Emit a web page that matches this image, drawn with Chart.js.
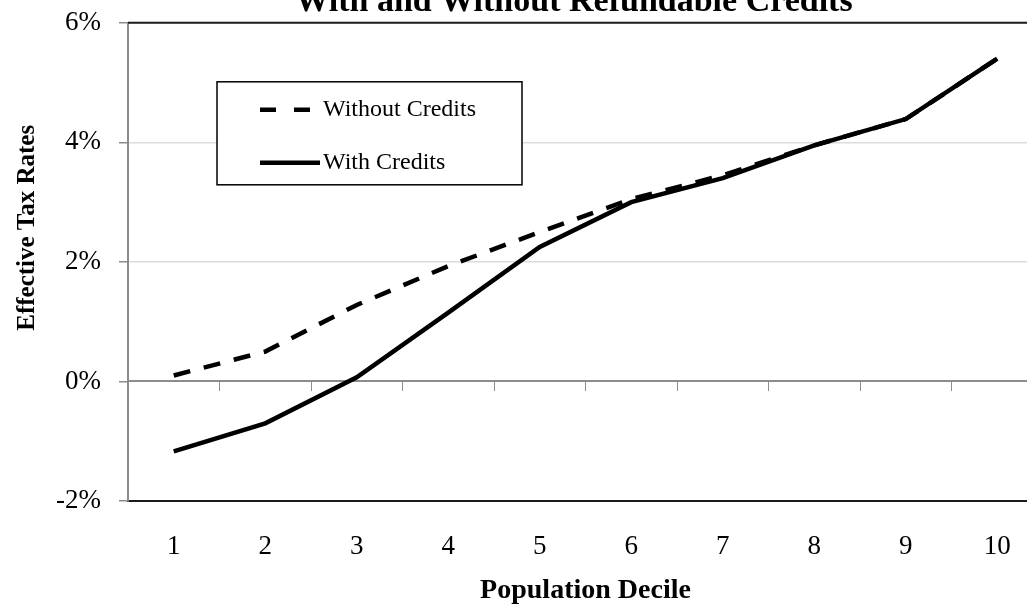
<!DOCTYPE html>
<html>
<head>
<meta charset="utf-8">
<script src="https://cdn.jsdelivr.net/npm/chart.js@4.4.1/dist/chart.umd.min.js"></script>
<style>
  html, body { margin: 0; padding: 0; background: #fff; overflow: hidden; }
  #wrap { position: absolute; left: 0; top: -18px; width: 1148px; height: 626px; }
</style>
</head>
<body>
<div id="wrap"><canvas id="chart" width="1148" height="626"></canvas></div>
<script>
const deciles = ['1', '2', '3', '4', '5', '6', '7', '8', '9', '10'];
const withoutCredits = [0.1, 0.5, 1.28, 1.93, 2.5, 3.05, 3.45, 3.95, 4.39, 5.4];
const withCredits = [-1.17, -0.7, 0.07, 1.15, 2.25, 3.0, 3.4, 3.95, 4.39, 5.4];
const yMin = -2, yMax = 6, yStep = 2;

const SERIF = '"Liberation Serif", "Times New Roman", serif';
const AXIS_GRAY = '#8c8c8c';

// frame top, legend box and rotated y title, drawn like the original
const extras = {
  id: 'extras',
  afterDraw(chart){
    const {ctx, chartArea: ca} = chart;
    ctx.save();

    ctx.strokeStyle = '#1a1a1a';
    ctx.lineWidth = 2;
    ctx.beginPath();
    ctx.moveTo(ca.left, ca.top);
    ctx.lineTo(ca.right, ca.top);
    ctx.stroke();

    const bx = ca.left + 89, by = ca.top + 59, bw = 305, bh = 103;
    ctx.fillStyle = '#fff';
    ctx.fillRect(bx, by, bw, bh);
    ctx.strokeStyle = '#000';
    ctx.lineWidth = 1.5;
    ctx.strokeRect(bx, by, bw, bh);

    const rows = [
      {ds: chart.data.datasets[0], dash: [16, 18], y: by + 28, x0: bx + 43, x1: bx + 93},
      {ds: chart.data.datasets[1], dash: [], y: by + 81, x0: bx + 43, x1: bx + 103}
    ];
    ctx.font = '24px ' + SERIF;
    ctx.textBaseline = 'middle';
    ctx.fillStyle = '#000';
    rows.forEach(r => {
      ctx.strokeStyle = '#000';
      ctx.lineWidth = r.ds.borderWidth;
      ctx.setLineDash(r.dash);
      ctx.beginPath();
      ctx.moveTo(r.x0, r.y);
      ctx.lineTo(r.x1, r.y);
      ctx.stroke();
      ctx.setLineDash([]);
      ctx.fillText(r.ds.label, bx + 106, r.y);
    });

    ctx.translate(28, ca.top + 205);
    ctx.rotate(-Math.PI / 2);
    ctx.font = 'bold 25px ' + SERIF;
    ctx.textAlign = 'center';
    ctx.fillText('Effective Tax Rates', 0, 0);
    ctx.restore();
  }
};

new Chart(document.getElementById('chart'), {
  type: 'line',
  data: {
    labels: deciles,
    datasets: [
      {
        label: 'Without Credits',
        data: withoutCredits,
        borderColor: '#000',
        borderWidth: 4.5,
        borderDash: [17, 14],
        pointRadius: 0,
        tension: 0
      },
      {
        label: 'With Credits',
        data: withCredits,
        borderColor: '#000',
        borderWidth: 4.5,
        pointRadius: 0,
        tension: 0
      }
    ]
  },
  options: {
    responsive: false,
    animation: false,
    layout: { padding: 0 },
    plugins: {
      legend: { display: false },
      tooltip: { enabled: false },
      title: {
        display: true,
        text: 'With and Without Refundable Credits',
        color: '#000',
        font: { family: SERIF, size: 34, weight: 'bold' },
        padding: { top: 0, bottom: 0 }
      }
    },
    scales: {
      x: {
        type: 'category',
        position: 'bottom',
        offset: true,
        grid: { display: false, drawTicks: false },
        border: { color: '#1a1a1a', width: 2 },
        ticks: { color: '#000', padding: 30, font: { family: SERIF, size: 27 } },
        title: {
          display: true,
          text: 'Population Decile',
          color: '#000',
          font: { family: SERIF, size: 28, weight: 'bold' },
          padding: { top: 0, bottom: 0 }
        },
        afterFit: s => { s.height = 107; }
      },
      x2: {
        type: 'category',
        axis: 'x',
        position: { y: 0 },
        offset: true,
        grid: {
          drawOnChartArea: false,
          drawTicks: true,
          tickLength: 9,
          color: AXIS_GRAY,
          offset: true
        },
        border: { color: AXIS_GRAY, width: 2 },
        ticks: { display: false }
      },
      y: {
        min: yMin,
        max: yMax,
        ticks: {
          stepSize: yStep,
          color: '#000',
          padding: 18,
          font: { family: SERIF, size: 27 },
          callback: v => v + '%'
        },
        grid: {
          color: c => (c.tick && (c.tick.value === 2 || c.tick.value === 4)) ? '#dcdcdc' : 'rgba(0,0,0,0)',
          tickColor: AXIS_GRAY,
          tickLength: 9,
          lineWidth: 1.5
        },
        border: { color: AXIS_GRAY, width: 2 },
        afterFit: s => { s.width = 128; }
      },
      // empty right-hand axis: keeps the plot running past the window edge
      y2: {
        position: 'right',
        min: yMin,
        max: yMax,
        grid: { drawOnChartArea: false, drawTicks: false },
        border: { display: false },
        ticks: { display: false },
        afterFit: s => { s.width = 105; }
      }
    }
  },
  plugins: [extras]
});
</script>
</body>
</html>
